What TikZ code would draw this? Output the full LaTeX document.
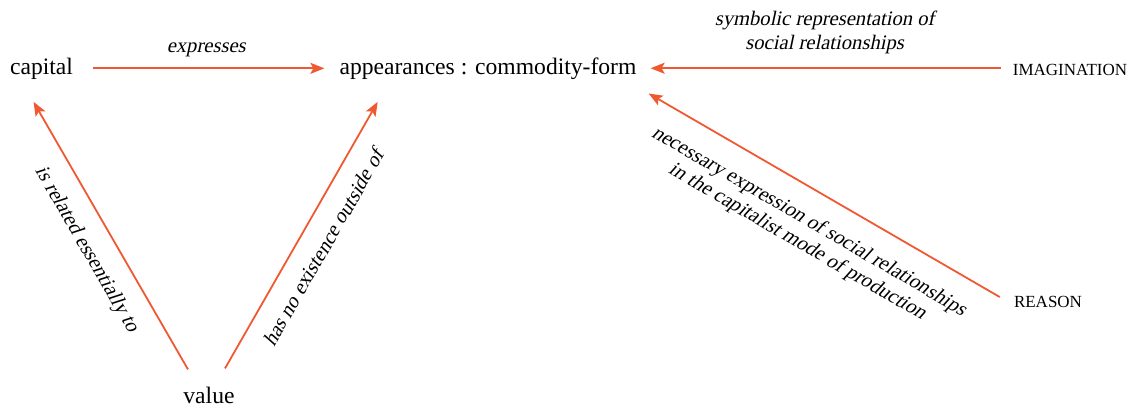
\documentclass[tikz,border=0pt]{standalone}
\usepackage{fontspec}
\setmainfont{Liberation Serif}
\newfontfamily\slantedserif{Liberation Serif}[FakeSlant=0.21]
\usetikzlibrary{arrows.meta}

\definecolor{linkred}{RGB}{240,88,50}

\tikzset{
  term/.style={inner sep=0pt, anchor=base, font=\fontsize{23.6}{26}\selectfont},
  faculty/.style={inner sep=0pt, anchor=base, font=\fontsize{17}{20}\selectfont},
  rel/.style={draw=linkred, line width=1.8pt,
    -{Stealth[length=14pt, width=11pt, inset=3pt]}},
  lbl/.style={inner sep=0pt, align=center,
    font=\slantedserif\fontsize{20.6}{23.5}\selectfont}
}

\begin{document}
\begin{tikzpicture}[x=1pt, y=-1pt]
  \useasboundingbox (0,0) rectangle (1130,407);

  % concepts
  \node[term] (capital) at (41.5,74) {capital};
  \node[term] (app) at (488,74) {appearances : commodity-form};
  \node[term] (value) at (209,403) {value};
  \node[faculty] (imag) at (1070,75) {IMAGINATION};
  \node[faculty] (reason) at (1048,307) {REASON};

  % relations
  \draw[rel, shorten <=20pt, shorten >=15pt] (capital.east) -- (app.west |- capital.east)
    node[lbl, midway, anchor=base, yshift=16pt] {expresses};

  \draw[rel, shorten <=12pt, shorten >=14pt] (imag.west |- app.east) -- (app.east)
    node[lbl, midway, above=13.8pt] {symbolic representation of\\social relationships};

  \draw[rel] ([shift={(-21,-17)}]value.north) -- ([shift={(-8,22.6)}]capital.south)
    node[lbl, midway, sloped, below=18pt] {is related essentially to};

  \draw[rel] ([shift={(16,-18)}]value.north) -- ([shift={(38.3,22.6)}]app.south west)
    node[lbl, midway, sloped, below=17pt] {has no existence outside of};

  \draw[rel] ([shift={(-14,-4.4)}]reason.west) -- ([shift={(12,14.2)}]app.south east)
    node[lbl, midway, sloped, below=20.3pt]
      {necessary expression of social relationships\\in the capitalist mode of production};
\end{tikzpicture}
\end{document}
